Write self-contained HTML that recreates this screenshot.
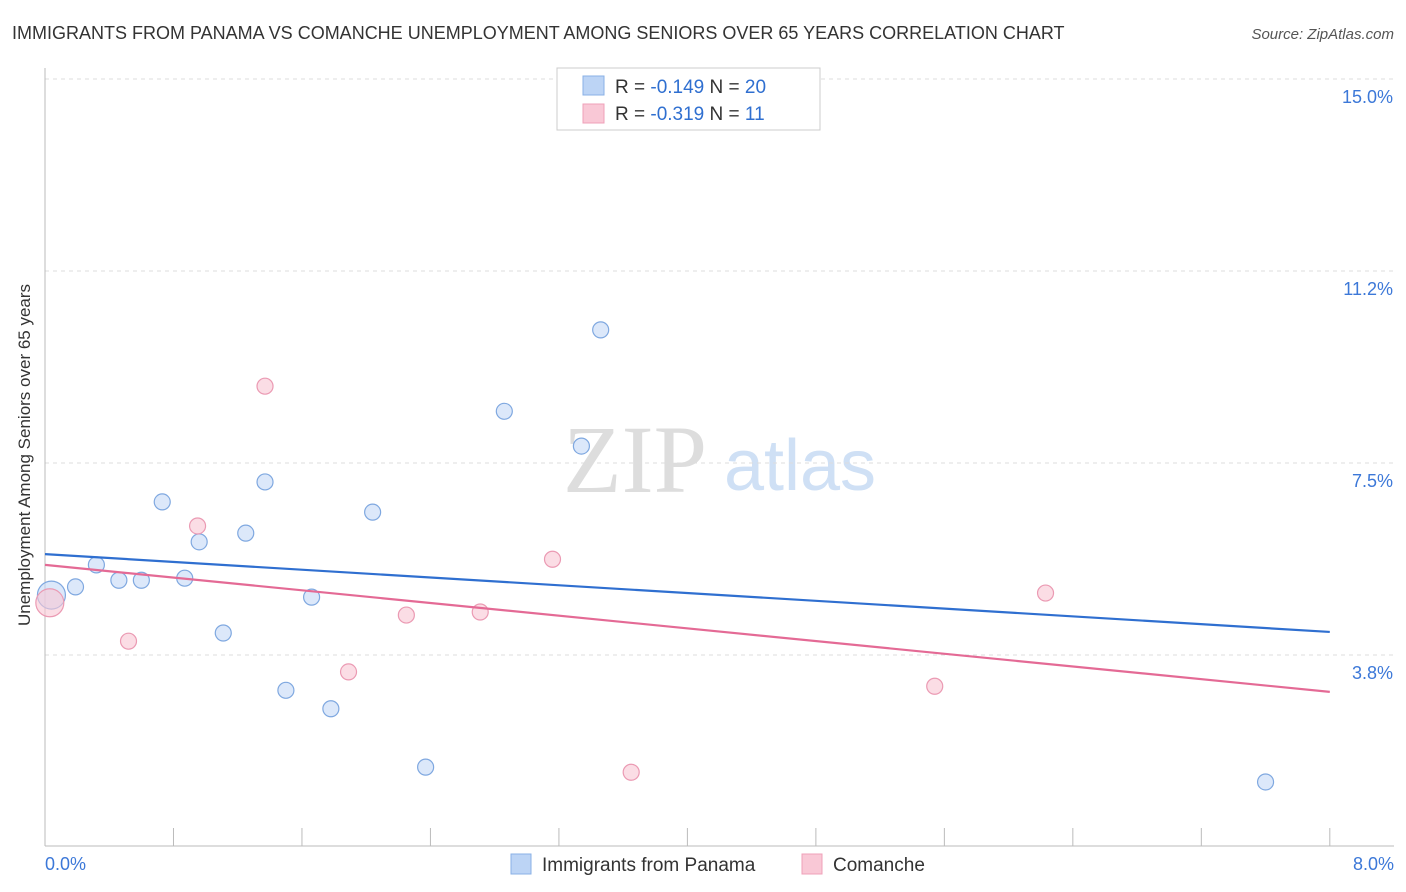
<!DOCTYPE html>
<html><head><meta charset="utf-8"><style>
body{margin:0;background:#fff;font-family:"Liberation Sans",sans-serif;}
svg{display:block}
</style></head><body>
<svg width="1406" height="892" id="chart">
<text x="12" y="39" font-size="18" fill="#333">IMMIGRANTS FROM PANAMA VS COMANCHE UNEMPLOYMENT AMONG SENIORS OVER 65 YEARS CORRELATION CHART</text>
<text x="1394" y="39" font-size="15" fill="#555" font-style="italic" text-anchor="end">Source: ZipAtlas.com</text>
<text x="30" y="455" font-size="17" fill="#333" text-anchor="middle" transform="rotate(-90 30 455)">Unemployment Among Seniors over 65 years</text>
<g>
<text x="635" y="492" font-size="96" fill="#ddd" text-anchor="middle" font-family="Liberation Serif,serif">ZIP</text>
<text x="800" y="490" font-size="72" fill="#cfe0f5" text-anchor="middle">atlas</text>
</g>
<g id="grid"></g><g id="axes"></g><g id="marks"></g>
<g>
<rect x="557" y="68" width="263" height="62" fill="#fff" stroke="#ccc"/>
<rect x="583" y="76" width="21" height="19" fill="#bcd4f5" stroke="#8ab0e6"/>
<rect x="583" y="104" width="21" height="19" fill="#f9c8d6" stroke="#efa0b8"/>
<text x="615" y="93" font-size="19" fill="#333">R = <tspan fill="#2f6fd0">-0.149</tspan>   N = <tspan fill="#2f6fd0">20</tspan></text>
<text x="615" y="120" font-size="19" fill="#333">R = <tspan fill="#2f6fd0">-0.319</tspan>   N =  <tspan fill="#2f6fd0"> 11</tspan></text>
</g>
<g>
<rect x="511" y="854" width="20" height="20" fill="#bcd4f5" stroke="#8ab0e6"/>
<text x="542" y="871" font-size="19" fill="#333">Immigrants from Panama</text>
<rect x="802" y="854" width="20" height="20" fill="#f9c8d6" stroke="#efa0b8"/>
<text x="833" y="871" font-size="19" fill="#333">Comanche</text>
</g>
</svg>
<script>
const yTicks=[3.8,7.5,11.2,15.0];
const yTickVals=[3.75,7.5,11.25,15.0];
const xTickLabels=["0.0%","8.0%"];
const blueX=[0.04,0.19,0.32,0.46,0.60,0.73,0.87,0.96,1.11,1.25,1.37,1.50,1.66,1.78,2.04,2.37,2.86,3.34,3.46,7.60];
const blueY=[4.92,5.08,5.51,5.21,5.21,6.74,5.25,5.96,4.18,6.13,7.13,3.06,4.88,2.70,6.54,1.56,8.51,7.83,10.1,1.27];
const pinkX=[0.03,0.52,0.95,1.37,1.89,2.25,2.71,3.16,3.65,5.54,6.23];
const pinkY=[4.77,4.02,6.27,9.0,3.42,4.53,4.59,5.62,1.46,3.14,4.96];
const blueTrend=[5.72,4.20];
const pinkTrend=[5.51,3.03];
const ns="http://www.w3.org/2000/svg";
const X=v=>45+v*160.6, Y=v=>847-v*51.2;
function mk(t,a,p){const e=document.createElementNS(ns,t);for(const k in a)e.setAttribute(k,a[k]);document.getElementById(p).appendChild(e);return e;}
yTickVals.forEach((v,i)=>{
 const l=mk('line',{x1:45,x2:1394,y1:Y(v),y2:Y(v),stroke:'#ddd','stroke-dasharray':'4 4'},'grid');
 
 
 const t=mk('text',{x:1393,y:Y(v)+24,'font-size':18,fill:'#3c78d8','text-anchor':'end'},'grid');
 t.textContent=yTicks[i].toFixed(1)+'%';
 
 
});
mk('line',{x1:45,x2:45,y1:68,y2:846,stroke:'#bbb'},'axes');
mk('line',{x1:45,x2:1394,y1:846,y2:846,stroke:'#bbb'},'axes');
for(let i=1;i<=10;i++){const l=mk('line',{x1:X(i*0.8),x2:X(i*0.8),y1:828,y2:846,stroke:'#bbb'},'axes');
 
 }
[[0,'start',45],[1,'end',1394]].forEach(([i,a,x])=>{const t=mk('text',{x:x,y:870,'font-size':18,fill:'#3c78d8','text-anchor':a},'axes');t.textContent=xTickLabels[i];
 
 });
function pts(xs,ys,fill,stroke,name){xs.forEach((x,i)=>{const c=mk('circle',{cx:X(x),cy:Y(ys[i]),r:i==0?14:8,fill:fill,'fill-opacity':0.6,stroke:stroke,'stroke-width':1.2},'marks');
 
 });}
pts(blueX,blueY,'#c4d9f6','#7fa8e0','panama-point');
pts(pinkX,pinkY,'#f8c6d4','#eb9ab3','comanche-point');
const bl=mk('line',{x1:X(0),y1:Y(blueTrend[0]),x2:X(8),y2:Y(blueTrend[1]),stroke:'#2f6fd0','stroke-width':2.2},'marks');


const pl=mk('line',{x1:X(0),y1:Y(pinkTrend[0]),x2:X(8),y2:Y(pinkTrend[1]),stroke:'#e46a95','stroke-width':2.2},'marks');


</script>
</body></html>
